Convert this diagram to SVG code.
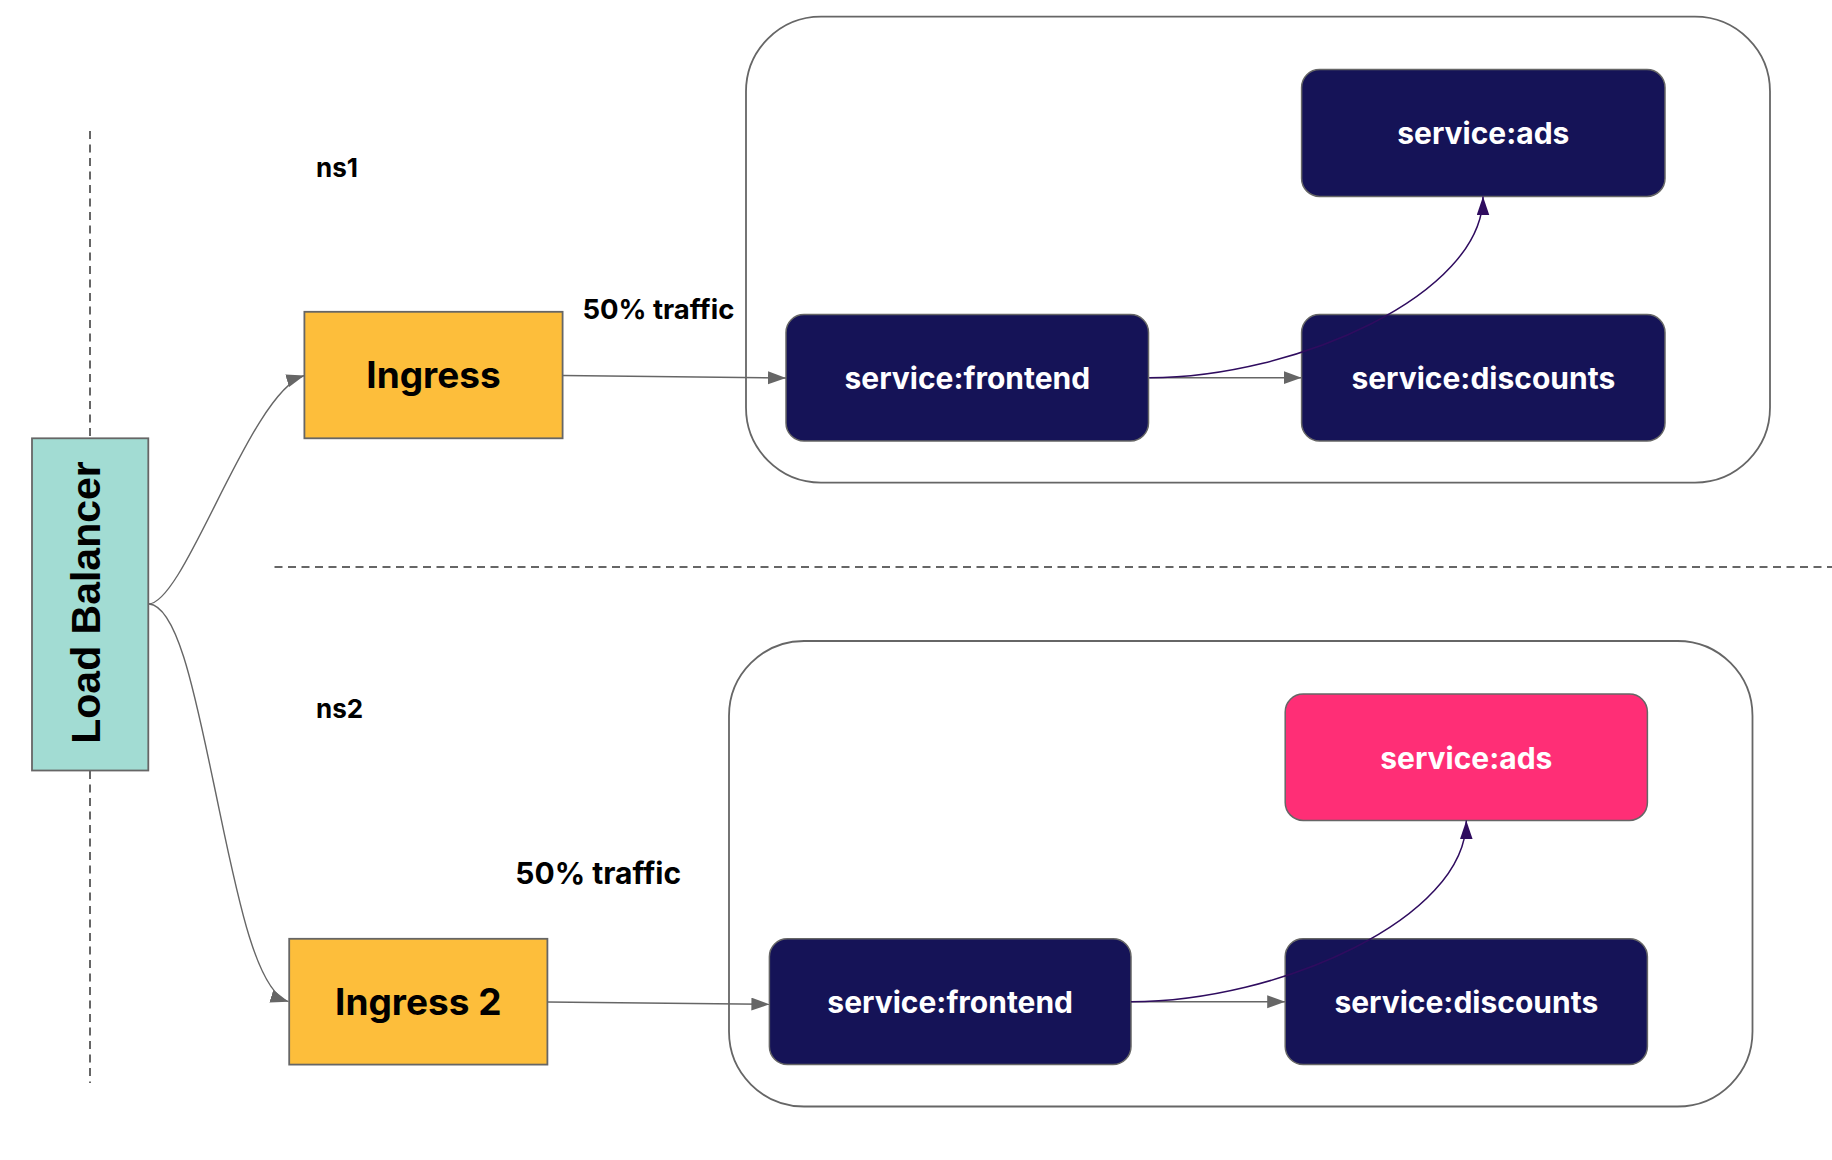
<svg xmlns="http://www.w3.org/2000/svg" width="1832" height="1160" viewBox="0 0 1832 1160">
<defs>
<style>
.bg{fill:#ffffff}
.container{fill:none;stroke:#666666;stroke-width:1.8}
.svc{fill:#151357;stroke:#666666;stroke-width:1.5}
.ads2{fill:#ff2e76;stroke:#666666;stroke-width:1.5}
.ingress{fill:#fdbe3b;stroke:#666666;stroke-width:1.8}
.lb{fill:#a2dcd3;stroke:#666666;stroke-width:1.8}
.dash{fill:none;stroke:#666666;stroke-width:2;stroke-dasharray:8 5.5}
.edge{fill:none;stroke:#666666;stroke-width:1.4}
.edgep{fill:none;stroke:#2f0c5f;stroke-width:1.5}
.svct{font-family:Inter,"Noto Sans",sans-serif;font-weight:700;font-size:30px;fill:#ffffff;text-anchor:middle}
.ingt{font-family:Inter,"Noto Sans",sans-serif;font-weight:700;font-size:37px;fill:#000000;text-anchor:middle}
.lbl{font-family:Inter,"Noto Sans",sans-serif;font-weight:700;fill:#000000}
.lbt{font-family:"Liberation Sans",Arial,sans-serif;font-weight:700;font-size:41px;fill:#000000;text-anchor:middle}
</style>
<marker id="ag" markerUnits="userSpaceOnUse" markerWidth="20" markerHeight="14" refX="18" refY="6.5" orient="auto">
<path d="M0,0 L18,6.5 L0,13 z" fill="#666666"/>
</marker>
<marker id="ap" markerUnits="userSpaceOnUse" markerWidth="21" markerHeight="14" refX="19" refY="6.4" orient="auto">
<path d="M0,0 L19,6.4 L0,12.8 z" fill="#2f0c5f"/>
</marker>
</defs>
<rect class="bg" x="0" y="0" width="1832" height="1160"/>

<g id="separators">
<line class="dash" x1="90" y1="131" x2="90" y2="438"/>
<line class="dash" x1="90" y1="771" x2="90" y2="1083"/>
<line class="dash" x1="274.5" y1="567" x2="1832" y2="567"/>
</g>

<g id="ns1-container"><rect class="container" x="746" y="16.6" width="1024" height="466" rx="75" ry="75"/></g>
<g id="ns2-container"><rect class="container" x="729" y="641" width="1023.5" height="465.5" rx="75" ry="75"/></g>

<g id="label-ns1"><text class="lbl" x="316" y="176.5" font-size="26">ns1</text></g>
<g id="label-ns2"><text class="lbl" x="316" y="717.6" font-size="26">ns2</text></g>
<g id="label-traffic1"><text class="lbl" x="582.4" y="319" font-size="27.5">50% traffic</text></g>
<g id="label-traffic2"><text class="lbl" x="515.3" y="884" font-size="30">50% traffic</text></g>

<g id="load-balancer">
<rect class="lb" x="32" y="438.3" width="116.3" height="332.2"/>
<text class="lbt" transform="translate(99.5,602.5) rotate(-90)" x="0" y="0">Load Balancer</text>
</g>

<g id="ingress1">
<rect class="ingress" x="304.4" y="311.8" width="258.2" height="126.5"/>
<text class="ingt" x="433.5" y="388.4">Ingress</text>
</g>
<g id="ingress2">
<rect class="ingress" x="289.2" y="938.8" width="258.2" height="125.8"/>
<text class="ingt" x="418.3" y="1015.4">Ingress 2</text>
</g>

<g id="frontend1">
<rect class="svc" x="786" y="314.4" width="362.5" height="126.6" rx="18" ry="18"/>
<text class="svct" x="967.3" y="388.5">service:frontend</text>
</g>
<g id="discounts1">
<rect class="svc" x="1301.6" y="314.4" width="363.4" height="126.6" rx="18" ry="18"/>
<text class="svct" x="1483.3" y="388.5">service:discounts</text>
</g>
<g id="ads1">
<rect class="svc" x="1301.6" y="69.5" width="363.4" height="126.9" rx="18" ry="18"/>
<text class="svct" x="1483.3" y="144">service:ads</text>
</g>

<g id="frontend2">
<rect class="svc" x="769.4" y="938.8" width="361.6" height="125.8" rx="18" ry="18"/>
<text class="svct" x="950.2" y="1012.5">service:frontend</text>
</g>
<g id="discounts2">
<rect class="svc" x="1285.2" y="938.8" width="362.2" height="125.8" rx="18" ry="18"/>
<text class="svct" x="1466.3" y="1012.5">service:discounts</text>
</g>
<g id="ads2">
<rect class="ads2" x="1285.2" y="693.9" width="362.2" height="126.5" rx="18" ry="18"/>
<text class="svct" x="1466.3" y="768.5">service:ads</text>
</g>

<g id="connectors">
<path class="edge" d="M148.3,604 C185,604 250,392 304.4,375.5" marker-end="url(#ag)"/>
<path class="edge" d="M149,604 C178,606 196,700 213,780 C234.25,880 253.5,990.7 288.5,1001.7" marker-end="url(#ag)"/>
<path class="edge" d="M562.6,375.5 L786,378" marker-end="url(#ag)"/>
<path class="edge" d="M1149.3,377.7 L1301.6,377.7" marker-end="url(#ag)"/>
<path class="edgep" d="M1149.3,377.7 C1295,377.7 1483,295 1483,196.4" marker-end="url(#ap)"/>
<path class="edge" d="M547.4,1002 L769.4,1004.3" marker-end="url(#ag)"/>
<path class="edge" d="M1131,1001.7 L1285.2,1001.7" marker-end="url(#ag)"/>
<path class="edgep" d="M1131,1001.7 C1278,1001.7 1466.3,919 1466.3,820.4" marker-end="url(#ap)"/>
</g>
</svg>
